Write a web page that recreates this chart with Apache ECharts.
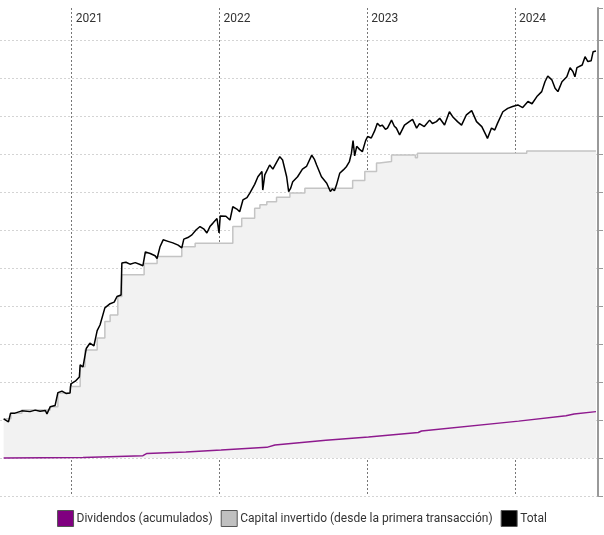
<!DOCTYPE html>
<html>
<head>
<meta charset="utf-8">
<script src="https://cdn.jsdelivr.net/npm/echarts@6/dist/echarts.min.js"></script>
<style>
  html, body { margin: 0; padding: 0; background: #fff; }
  #grafico { width: 604px; height: 535px; }
</style>
</head>
<body>
<div id="grafico"></div>
<script>
// valores en miles (cada línea de la cuadrícula = 10)
var nombres = ['Dividendos (acumulados)', 'Capital invertido (desde la primera transacción)', 'Total'];
var anios = ['2021-01-01', '2022-01-01', '2023-01-01', '2024-01-01'];

var totalFechas = [
  '2020-07-17','2020-07-29','2020-08-03','2020-08-14','2020-08-31','2020-09-20','2020-10-03','2020-10-15','2020-10-28','2020-11-01',
  '2020-11-09','2020-11-21','2020-11-28','2020-12-08','2020-12-18','2020-12-28','2020-12-30','2021-01-10','2021-01-20','2021-01-22',
  '2021-01-29','2021-02-06','2021-02-15','2021-02-25','2021-03-05','2021-03-12','2021-03-24','2021-04-06','2021-04-16','2021-04-23',
  '2021-05-03','2021-05-05','2021-05-15','2021-05-25','2021-06-07','2021-06-19','2021-06-26','2021-07-02','2021-07-14','2021-07-26',
  '2021-07-31','2021-08-07','2021-08-15','2021-08-27','2021-09-08','2021-09-21','2021-09-30','2021-10-05','2021-10-15','2021-10-25',
  '2021-11-04','2021-11-14','2021-11-24','2021-12-01','2021-12-09','2021-12-16','2021-12-26','2021-12-30','2021-12-31','2022-01-03',
  '2022-01-17','2022-01-27','2022-02-03','2022-02-13','2022-02-20','2022-02-28','2022-03-10','2022-03-17','2022-03-29','2022-04-06',
  '2022-04-16','2022-04-18','2022-04-23','2022-05-05','2022-05-13','2022-05-22','2022-05-30','2022-06-06','2022-06-16','2022-06-21',
  '2022-06-26','2022-07-01','2022-07-13','2022-07-25','2022-08-04','2022-08-17','2022-08-24','2022-08-29','2022-09-10','2022-09-23',
  '2022-10-02','2022-10-07','2022-10-12','2022-10-17','2022-10-25','2022-11-03','2022-11-11','2022-11-18','2022-11-23','2022-11-27',
  '2022-12-01','2022-12-06','2022-12-13','2022-12-20','2022-12-28','2023-01-02','2023-01-11','2023-01-19','2023-01-26','2023-02-02',
  '2023-02-07','2023-02-15','2023-02-20','2023-03-02','2023-03-09','2023-03-14','2023-03-22','2023-04-03','2023-04-15','2023-04-23',
  '2023-05-03','2023-05-10','2023-05-22','2023-06-04','2023-06-11','2023-06-21','2023-06-29','2023-07-11','2023-07-23','2023-07-31',
  '2023-08-12','2023-08-22','2023-09-03','2023-09-16','2023-09-28','2023-10-11','2023-10-21','2023-10-25','2023-11-04','2023-11-12',
  '2023-11-19','2023-12-02','2023-12-14','2023-12-26','2024-01-08','2024-01-20','2024-02-02','2024-02-12','2024-02-24','2024-03-07',
  '2024-03-15','2024-03-22','2024-04-01','2024-04-09','2024-04-16','2024-04-26','2024-05-08','2024-05-16','2024-05-23','2024-05-28',
  '2024-06-02','2024-06-15','2024-06-22','2024-06-29','2024-07-07','2024-07-12','2024-07-19'
];
var totalValores = [
  10.3, 9.5, 11.8, 11.8, 12.4, 12.2, 12.6, 12.3, 12.5, 11.6,
  13.5, 13.8, 17.2, 17.6, 17.0, 17.1, 19.5, 20.2, 21.3, 24.5,
  24.0, 28.8, 30.2, 29.5, 33.5, 35.0, 39.5, 40.6, 41.0, 42.5,
  42.9, 51.3, 51.5, 51.0, 51.4, 50.9, 50.6, 54.2, 53.8, 53.2,
  52.5, 55.5, 57.4, 57.0, 56.6, 56.0, 55.3, 57.6, 58.0, 58.7,
  60.0, 60.9, 60.2, 59.2, 61.0, 61.8, 63.0, 63.3, 59.2, 63.7,
  63.6, 62.6, 66.1, 65.5, 64.8, 67.9, 68.5, 69.7, 72.0, 74.0,
  75.4, 70.5, 74.5, 77.1, 76.0, 77.8, 79.3, 78.4, 74.0, 70.1,
  71.0, 72.7, 74.0, 76.0, 76.7, 79.7, 78.5, 77.1, 74.0, 72.3,
  70.1, 70.8, 70.3, 71.8, 74.9, 75.8, 76.7, 78.0, 80.2, 83.5,
  79.5, 82.0, 81.2, 80.6, 83.5, 84.6, 84.2, 86.0, 88.1, 87.3,
  87.6, 86.5, 86.8, 88.9, 87.3, 86.8, 85.0, 87.6, 88.5, 89.1,
  86.8, 88.0, 87.2, 88.9, 88.0, 88.5, 89.4, 87.6, 91.1, 89.8,
  88.5, 87.6, 90.3, 91.4, 88.5, 87.2, 85.0, 84.1, 86.8, 86.3,
  88.1, 91.1, 92.0, 92.5, 92.9, 92.2, 93.8, 93.2, 95.1, 96.4,
  99.0, 100.5, 99.5, 97.3, 96.4, 99.0, 100.3, 102.7, 101.7, 100.3,
  102.7, 103.4, 105.6, 104.3, 104.5, 106.9, 107.1
];

var capitalFechas = [
  '2020-07-17','2020-08-04','2020-08-31','2020-11-09','2020-11-28','2020-12-28','2021-01-22','2021-02-03','2021-03-05','2021-03-24',
  '2021-04-06','2021-04-25','2021-05-05','2021-06-29','2021-07-31','2021-09-30','2021-11-02','2022-02-03','2022-02-25','2022-03-29',
  '2022-04-11','2022-04-28','2022-05-22','2022-06-24','2022-07-31','2022-11-26','2022-12-26','2023-01-24','2023-01-31','2023-03-02',
  '2023-04-30','2023-05-05','2024-01-30','2024-07-19'
];
var capitalValores = [
  10.3, 11.8, 12.6, 13.5, 17.1, 18.8, 24.0, 28.4, 31.6, 35.9,
  37.6, 42.5, 48.2, 51.2, 53.0, 55.6, 56.5, 60.9, 63.1, 65.7,
  66.6, 67.4, 68.6, 69.7, 71.0, 73.0, 75.4, 77.6, 78.0, 79.7,
  79.0, 80.2, 80.8, 80.8
];

var dividendosFechas = [
  '2020-07-17','2021-01-29','2021-06-26','2021-07-06','2021-10-10','2022-01-05','2022-04-28','2022-05-18','2022-09-21','2023-01-04',
  '2023-05-07','2023-05-15','2024-01-10','2024-05-06','2024-05-26','2024-07-19'
];
var dividendosValores = [
  0, 0.1, 0.6, 1.2, 1.6, 2.1, 2.8, 3.4, 4.7, 5.5,
  6.7, 7.1, 9.7, 11.1, 11.6, 12.2
];

// fechas -> milisegundos (UTC) para el eje de valores
function ms(f) { return Date.parse(f + 'T00:00:00Z'); }
function pares(fechas, valores) {
  return fechas.map(function (f, i) { return [ms(f), valores[i]]; });
}
var aniosMs = anios.map(ms);

var myChart = echarts.init(document.getElementById('grafico'));
var fuente = 'Roboto';

var option = {
  animation: false,
  textStyle: { fontFamily: fuente },
  grid: { left: 0, right: 6, top: 8, bottom: 39 },
  legend: {
    bottom: 3,
    left: 'center',
    icon: 'rect',
    itemWidth: 16,
    itemHeight: 16,
    itemGap: 8,
    textStyle: { fontFamily: fuente, fontSize: 12, color: '#333', padding: [0, 0, 0, -2] },
    data: [
      { name: nombres[0], itemStyle: { color: '#800080', borderColor: '#555', borderWidth: 1 } },
      { name: nombres[1], itemStyle: { color: '#c0c0c0', borderColor: '#555', borderWidth: 1 } },
      { name: nombres[2], itemStyle: { color: '#000', borderColor: '#555', borderWidth: 1 } }
    ]
  },
  xAxis: {
    type: 'value',
    position: 'top',
    min: ms('2020-07-08'),
    max: ms('2024-07-24'),
    axisLine: { show: false },
    axisTick: { show: false, customValues: aniosMs },
    axisLabel: {
      customValues: aniosMs,
      inside: true,
      align: 'left',
      verticalAlign: 'top',
      margin: 5,
      padding: [0, 0, 0, 4],
      fontFamily: fuente,
      fontSize: 12,
      color: '#333',
      formatter: function (v) { return String(new Date(v).getUTCFullYear()); }
    },
    splitLine: { show: true, lineStyle: { color: '#777', type: [2, 2], width: 1 } }
  },
  yAxis: {
    type: 'value',
    position: 'right',
    min: -10,
    max: 118.4,
    interval: 10,
    axisLine: { show: true, lineStyle: { color: '#999', width: 2 } },
    axisTick: { show: true, inside: false, length: 5, lineStyle: { color: '#999' } },
    axisLabel: { show: false },
    splitLine: { show: true, showMaxLine: false, lineStyle: { color: '#d4d4d4', type: [2, 2], width: 1 } }
  },
  series: [
    {
      name: nombres[1],
      type: 'line',
      step: 'end',
      symbol: 'none',
      data: pares(capitalFechas, capitalValores),
      lineStyle: { color: '#c4c4c4', width: 1.5 },
      itemStyle: { color: '#c0c0c0' },
      areaStyle: { color: '#f2f2f2', opacity: 1 },
      z: 1
    },
    {
      name: nombres[0],
      type: 'line',
      symbol: 'none',
      data: pares(dividendosFechas, dividendosValores),
      lineStyle: { color: '#8e1a8e', width: 1.5 },
      itemStyle: { color: '#800080' },
      z: 2
    },
    {
      name: nombres[2],
      type: 'line',
      symbol: 'none',
      data: pares(totalFechas, totalValores),
      lineStyle: { color: '#000', width: 1.5 },
      itemStyle: { color: '#000' },
      z: 3
    }
  ]
};

myChart.setOption(option);
</script>
</body>
</html>
